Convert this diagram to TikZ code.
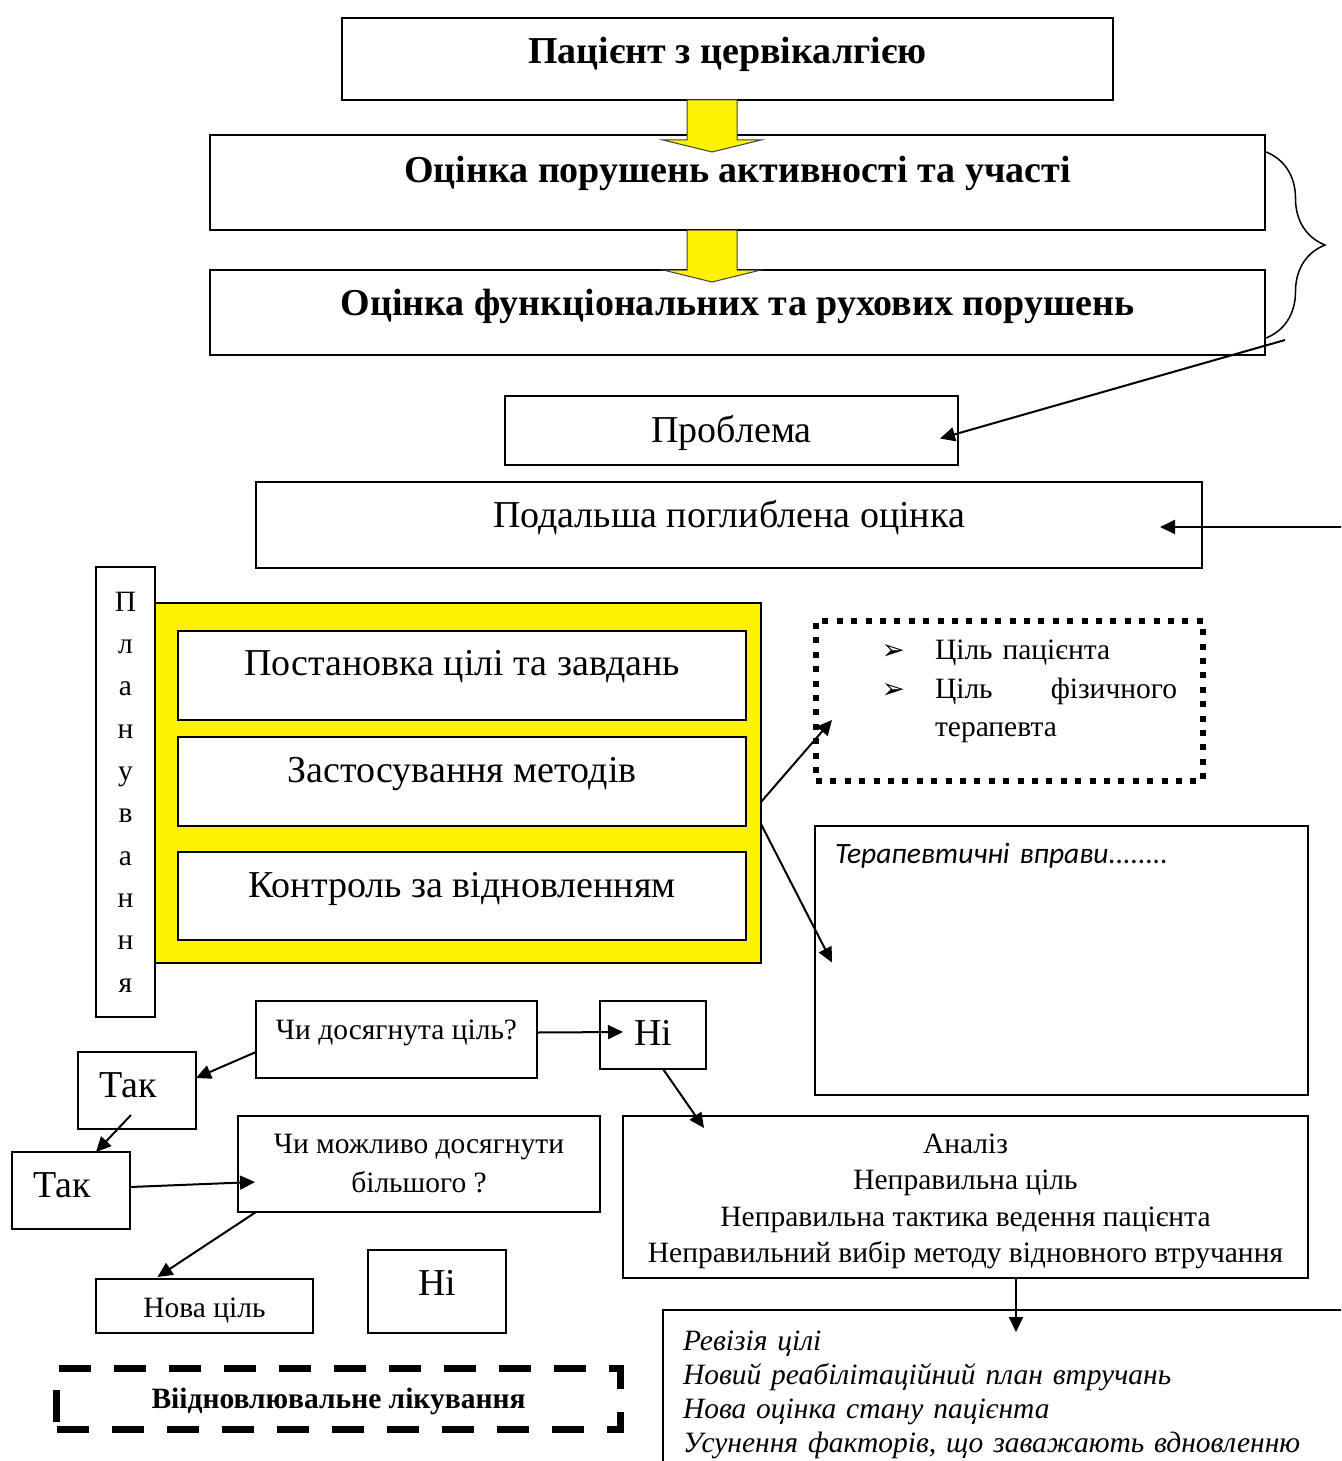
\documentclass[tikz,border=0pt]{standalone}
\usepackage{fontspec}
\setmainfont{Liberation Serif}
\newfontfamily\carlito{Carlito}
\newfontfamily\dingfont{DejaVu Sans}
\usetikzlibrary{arrows.meta, positioning, calc}
\usetikzlibrary{decorations.pathreplacing}

\newcommand{\pointer}{\leavevmode\llap{{\dingfont\fontsize{14}{14}\selectfont ➢}\hspace{15pt}}}

\begin{document}
\begin{tikzpicture}[x=0.5pt, y=-0.5pt,
    every node/.style={inner sep=0pt, outer sep=0pt},
    wh/.style 2 args={minimum width=#1pt, minimum height=#2pt},
    box/.style={draw, line width=1pt, fill=white},
    big/.style={font=\fontsize{19}{23}\selectfont},
    small/.style={font=\fontsize{14.75}{18}\selectfont},
    head/.style={font=\bfseries\fontsize{19}{23}\selectfont},
    bl/.style={text height=#1pt, text depth=0pt},
    aims box/.style={draw, line width=3pt, dash pattern=on 3pt off 4.2pt},
    restore box/.style={draw, line width=3.5pt, dash pattern=on 16pt off 11.5pt},
    yarrow/.style={fill=yellow, draw=black!75, line width=0.5pt},
    conn/.style={line width=1pt, -{Triangle[length=7.5pt, width=7pt]}}]
    \useasboundingbox (0,0) rectangle (1341,1461);
    \clip (0,0) rectangle (1341,1461);

    % assessment
    \node[box, head, wh={385.5}{41}, bl=5] (patient) at (727.5,59) {Пацієнт з цервікалгією};
    \node[box, head, wh={527.5}{47.5}, bl=0] (activity) at (737.5,182.5) {Оцінка порушень активності та участі};
    \node[box, head, wh={527.5}{42.5}, bl=2.5] (function) at (737.5,312.5) {Оцінка функціональних та рухових порушень};
    \node[box, big, wh={226.5}{34.5}, bl=11.5] (problem) at (731.5,430.5) {Проблема};
    \node[box, big, wh={473}{43}, bl=2] (further) at (729,525) {Подальша поглиблена оцінка};

    % planning
    \node[box, fill=yellow, wh={303}{180}] (yellow) at (458,783) {};
    \node[box, big, wh={284}{44.5}, bl=0] (goal) at (462,675.5) {Постановка цілі та завдань};
    \node[box, big, wh={284}{44.5}, bl=0.5] (methods) at (462,781.5) {Застосування методів};
    \node[box, big, wh={284}{44}, bl=1] (control) at (462,896) {Контроль за відновленням};
    \node[box, wh={29.5}{225}, align=center, font=\fontsize{14.75}{21.17}\selectfont] (planning) at (125.5,792)
        {П\\л\\а\\н\\у\\в\\а\\н\\н\\я};
    \node[aims box, wh={193.5}{80}, text width=167.5pt, align=left, font=\fontsize{14.75}{19.25}\selectfont] (aims) at (1009.5,701)
        {\leftskip=46.5pt \pointer Ціль пацієнта\\
        \pointer Ціль\hskip0pt plus1filll фізичного\\
        терапевта\rule[-12.5pt]{0pt}{0pt}\par};
    \node[box, anchor=north west, wh={246.5}{134.5}, inner xsep=10pt,
        text width=226.5pt, align=left, text height=0pt, text depth=97.5pt,
        font=\carlito\itshape\fontsize{14.75}{18}\selectfont] (exercise) at (815,826) {Терапевтичні вправи........};

    % evaluation
    \node[box, small, wh={140.5}{38.5}, bl=0] (reached) at (396.5,1039.5) {Чи досягнута ціль?};
    \node[box, big, wh={53}{34}, bl=10] (no1) at (653,1035) {Ні};
    \node[box, big, wh={59}{38.5}, bl=6.5] (yes1) at (137,1090.5) {Так\kern9pt};
    \node[box, big, wh={59}{38.5}, bl=6.5] (yes2) at (71,1190.5) {Так\kern9pt};
    \node[box, wh={181}{48}, align=center, font=\fontsize{14.75}{19.5}\selectfont] (more) at (419,1164)
        {Чи можливо досягнути\\більшого ?};
    \node[box, small, wh={108.5}{27}, bl=11] (newgoal) at (204.5,1306) {Нова ціль};
    \node[box, big, wh={69}{41.5}, bl=3.5] (no2) at (437,1291.5) {Ні};
    \node[restore box, wh={282}{30.5}, bl=9, font=\bfseries\fontsize{14.75}{18}\selectfont] (restore) at (338.5,1399)
        {Віідновлювальне лікування};
    \node[box, wh={342.5}{81}, align=center, font=\fontsize{14.75}{18.3}\selectfont] (analysis) at (965.5,1197)
        {\rule{0pt}{14.2pt}Аналіз\\Неправильна ціль\\Неправильна тактика ведення пацієнта\\Неправильний вибір методу відновного втручання};
    \node[box, anchor=north west, inner xsep=10pt, inner ysep=10.5pt, text width=350pt, align=left,
        font=\itshape\fontsize{14.75}{17}\selectfont] (revision) at (663,1310)
        {Ревізія цілі\\Новий реабілітаційний план втручань\\Нова оцінка стану пацієнта\\Усунення факторів, що заважають вдновленню};

    % connectors
    \foreach \a in {patient, activity}
        \draw[yarrow] (687,0 |- \a.south) -- ++(50,0) -- ++(0,40) -- ++(24,0) -- ++(-49,12) -- ++(-49,-12) -- ++(24,0) -- cycle;
    \draw[line width=0.75pt, decorate, decoration={brace, amplitude=29.5pt}]
        ($(activity.north east)+(1,17)$) -- ($(function.south east)+(1,-17)$);
    \draw[conn] ($(function.south east)+(20,-15)$) -- ($(problem.east)+(-18,8)$);
    \coordinate (rightin) at (1345,527);
    \draw[conn] (rightin) -- ($(further.east)+(-42,2)$);
    \draw[conn] ($(yellow.east)+(0,19)$) -- ($(aims.south west)+(16,-61)$);
    \draw[conn] ($(yellow.east)+(0,41)$) -- ($(exercise.west)+(17,2)$);
    \draw[conn] ($(reached.east)+(0,-7)$) -- ($(no1.west)+(23,-3)$);
    \draw[conn] ($(reached.west)+(0,12.5)$) -- ($(yes1.east)+(0,-12.5)$);
    \draw[conn] ($(yes1.south)+(-6,-14)$) -- ($(yes2.north)+(25,0)$);
    \draw[conn] ($(yes2.east)+(0,-3.5)$) -- ($(more.west)+(17,18)$);
    \draw[conn] ($(more.south west)+(18,0)$) -- ($(newgoal.north)+(-47,-2)$);
    \draw[conn] ($(no1.south)+(10,0)$) -- ($(analysis.north west)+(81,12)$);
    \draw[conn] ($(analysis.south)+(50.5,0)$) -- ($(revision.north west)+(353,22)$);
\end{tikzpicture}
\end{document}
